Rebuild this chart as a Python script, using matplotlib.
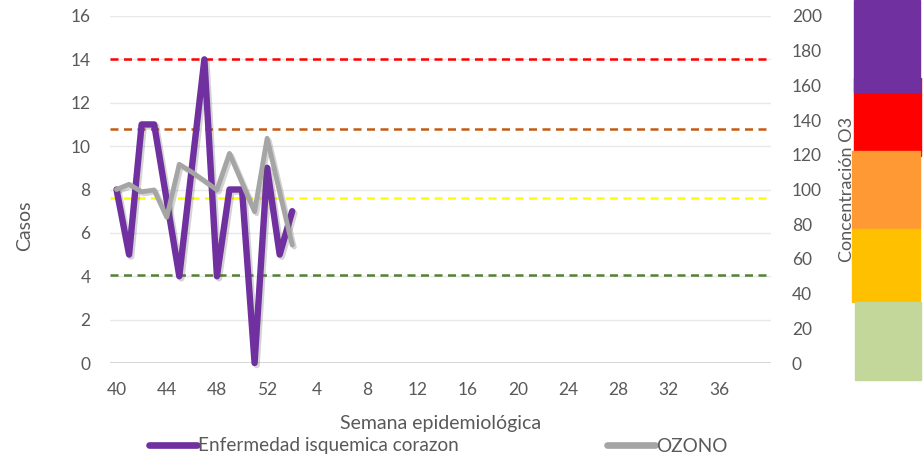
import numpy as np
import matplotlib
matplotlib.use("Agg")
import matplotlib.pyplot as plt
from matplotlib.patches import Rectangle
from matplotlib.lines import Line2D
import matplotlib.patheffects as pe

plt.rcParams['font.family'] = ['Lato', 'DejaVu Sans']

# ---- data ----
weeks = list(range(40, 53)) + list(range(1, 40))
casos = [8, 5, 11, 11, 7.5, 4, 9, 14, 4, 8, 8, 0, 9, 5, 7]
ozono = [100, 103, 98.7, 99.7, 84, 114.5, 110, 105, 99.7, 120.8, 104, 87.2, 129.5, 98.5, 68]
umbrales_o3 = [51, 95, 135, 175]
umbral_colores = ['#548235', '#FFFF00', '#C55A11', '#FF0000']
left_ticks = list(range(0, 17, 2))
right_ticks = list(range(0, 201, 20))

n = len(weeks)
x = np.arange(n)
casos_full = np.full(n, np.nan); casos_full[:len(casos)] = casos
ozono_full = np.full(n, np.nan); ozono_full[:len(ozono)] = ozono

W, H = 924, 455
fig = plt.figure(figsize=(W / 100, H / 100), dpi=100)
ax_l, ax_r, ax_b, ax_t = 110, 771, 363, 16
ax = fig.add_axes([ax_l / W, 1 - ax_b / H, (ax_r - ax_l) / W, (ax_b - ax_t) / H])
ax2 = ax.twinx()

txt = '#595959'
grid_c = '#E8E8E8'

ax.set_xlim(-0.52, 52.15)
ax.set_ylim(0, 16)
ax2.set_ylim(0, 200)
ax.set_yticks(left_ticks)
ax2.set_yticks(right_ticks)
ax.set_xticks(x[::4])
ax.set_xticklabels([str(w) for w in weeks[::4]])

for a in (ax, ax2):
    for s in ('left', 'right', 'top', 'bottom'):
        a.spines[s].set_visible(False)
    a.tick_params(length=0, colors=txt, labelsize=12.5)
ax.tick_params(axis='y', pad=14)
ax2.tick_params(axis='y', pad=15)
ax.tick_params(axis='x', pad=14)
ax.yaxis.grid(True, color=grid_c, linewidth=1)
ax.set_axisbelow(True)
ax.axhline(0, color='#D9D9D9', linewidth=2.2, zorder=1)

for v, c in zip(umbrales_o3, umbral_colores):
    ax2.axhline(v, color=c, linewidth=1.8, linestyle=(0, (3.2, 2.2)), zorder=2)

shadow = [pe.SimpleLineShadow(offset=(1.5, -1.5), alpha=0.25, shadow_color='#555555'), pe.Normal()]
l1, = ax2.plot(x, casos_full * 12.5, color='#7030A0', linewidth=4.6, solid_joinstyle='round',
               solid_capstyle='round', zorder=3, clip_on=False, path_effects=shadow)
l2, = ax2.plot(x, ozono_full, color='#A5A5A5', linewidth=3.5, solid_joinstyle='round',
               solid_capstyle='round', zorder=4, clip_on=False, path_effects=shadow)

ax.set_ylabel('Casos', color=txt, fontsize=14)
ax.yaxis.set_label_coords((33 - ax_l) / (ax_r - ax_l), (ax_b - 226) / (ax_b - ax_t))
ax2.set_ylabel('Concentración O3', color=txt, fontsize=13, labelpad=12)
ax.set_xlabel('Semana epidemiológica', color=txt, fontsize=14, labelpad=12)

legend_labels = ['Enfermedad isquemica corazon', 'OZONO']
legend_x = [149, 607]
for lab, col, lx in zip(legend_labels, ['#7030A0', '#A5A5A5'], legend_x):
    h = Line2D([], [], color=col, linewidth=4.8, solid_capstyle='round')
    lg = fig.legend([h], [lab], loc='center left', bbox_to_anchor=(lx / W, 1 - 446 / H),
                    frameon=False, fontsize=13.7, handlelength=2.5, handletextpad=0.1,
                    borderpad=0, borderaxespad=0, labelcolor=txt)

# decorative colour scale on the right
def rect(x0, y0, x1, y1, c):
    fig.patches.append(Rectangle((x0 / W, 1 - y1 / H), (x1 - x0) / W, (y1 - y0) / H,
                                 transform=fig.transFigure, color=c, zorder=0))
rect(854, 78, 921, 156, '#FF0000')
rect(852, 151, 920, 229, '#FF9933')
rect(852, 229, 920, 302, '#FFC000')
rect(855, 302, 921, 380, '#C4D79B')
rect(854, 0, 920, 92, '#7030A0')

fig.savefig('out.png', dpi=100)
